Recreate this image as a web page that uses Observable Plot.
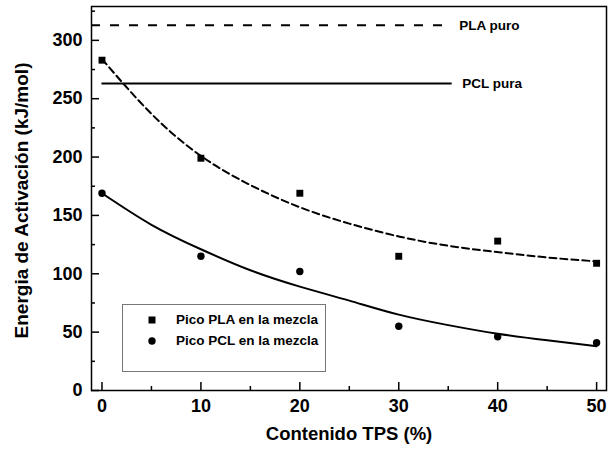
<!DOCTYPE html>
<html>
<head>
<meta charset="utf-8">
<script src="https://cdn.jsdelivr.net/npm/d3@7"></script>
<script src="https://cdn.jsdelivr.net/npm/@observablehq/plot@0.6"></script>
<style>
  html, body { margin: 0; padding: 0; background: white; }
  #wrap { position: relative; width: 608px; height: 454px; font-family: "Liberation Sans", Arial, sans-serif; }
  #legend { position: absolute; left: 122px; top: 304px; width: 204px; height: 68px; border: 1px solid #777; background: white; box-sizing: border-box; }
  #legend .item { position: absolute; left: 0; font-weight: bold; font-size: 13.5px; color: black; white-space: nowrap; }
  #legend svg { position: absolute; left: 21px; }
  #legend span { position: absolute; left: 53px; }
</style>
</head>
<body>
<div id="wrap"></div>
<script>
// Data
const tps = [0, 10, 20, 30, 40, 50];
const plaPeak = [283, 199, 169, 115, 128, 109];
const pclPeak = [169, 115, 102, 55, 46, 41];

// Points
const fitX = [0, 5, 10, 15, 20, 25, 30, 35, 40, 45, 50];
const fitPLA = [284, 237, 201, 176, 157, 143, 132, 124, 118.6, 114, 110.6];
const fitPCL = [169, 142, 121, 103, 89, 77, 65, 56, 48.6, 43, 38];

// Reference lines (pure polymers)
const refNames = ["PLA puro", "PCL pura"];
const refValues = [313, 263];
const refStart = [-1.06, 0];
const refEnd = [34.5, 35.4];

const xTicks = [0, 10, 20, 30, 40, 50];
const xMinor = [5, 15, 25, 35, 45];
const yTicks = [0, 50, 100, 150, 200, 250, 300];
const yMinor = [25, 75, 125, 175, 225, 275, 325];

const legendNames = ["Pico PLA en la mezcla", "Pico PCL en la mezcla"];

const pts = (xs, ys) => xs.map((x, i) => ({x, y: ys[i]}));
const refs = refNames.map((name, i) => ({name, y: refValues[i], x1: refStart[i], x2: refEnd[i]}));

const chart = Plot.plot({
  width: 608,
  height: 454,
  marginLeft: 91,
  marginRight: 2,
  marginTop: 6,
  marginBottom: 64,
  x: {domain: [-1.06, 51]},
  y: {domain: [0, 329]},
  style: {fontFamily: "'Liberation Sans', Arial, sans-serif", fontWeight: "bold", fontSize: "18px", color: "black", background: "white", overflow: "visible"},
  marks: [
    Plot.frame({stroke: "black", strokeWidth: 1.5}),
    Plot.axisX({ticks: xTicks, tickSize: -8, text: null, label: null, strokeWidth: 1.5}),
    Plot.axisX({ticks: xMinor, tickSize: -4, text: null, label: null, strokeWidth: 1.5}),
    Plot.axisX({ticks: xTicks, tickSize: 0, tickPadding: 9, label: null, fontSize: 18}),
    Plot.axisY({ticks: yTicks, tickSize: -8, text: null, label: null, strokeWidth: 1.5}),
    Plot.axisY({ticks: yMinor, tickSize: -4, text: null, label: null, strokeWidth: 1.5}),
    Plot.axisY({ticks: yTicks, tickSize: 0, tickPadding: 9, label: null, fontSize: 18}),
    Plot.text(["Contenido TPS (%)"], {frameAnchor: "bottom", dy: 49, fontSize: 18.5, fontWeight: "bold"}),
    Plot.text(["Energia de Activación (kJ/mol)"], {frameAnchor: "left", textAnchor: "middle", rotate: -90, dx: -70, dy: 2, fontSize: 19, fontWeight: "bold"}),
    Plot.ruleY(refs.slice(0, 1), {y: "y", x1: "x1", x2: "x2", stroke: "black", strokeWidth: 2, strokeDasharray: "9,10"}),
    Plot.ruleY(refs.slice(1), {y: "y", x1: "x1", x2: "x2", stroke: "black", strokeWidth: 2}),
    Plot.text(refs.slice(0, 1), {x: "x2", y: "y", text: "name", textAnchor: "start", dx: 16, fontSize: 13.5, fontWeight: "bold"}),
    Plot.text(refs.slice(1), {x: "x2", y: "y", text: "name", textAnchor: "start", dx: 10, fontSize: 13.5, fontWeight: "bold"}),
    Plot.line(pts(fitX, fitPLA), {x: "x", y: "y", curve: "natural", stroke: "black", strokeWidth: 2, strokeDasharray: "7,4"}),
    Plot.line(pts(fitX, fitPCL), {x: "x", y: "y", curve: "natural", stroke: "black", strokeWidth: 2}),
    Plot.dot(pts(tps, plaPeak), {x: "x", y: "y", symbol: "square", fill: "black", r: 3.9}),
    Plot.dot(pts(tps, pclPeak), {x: "x", y: "y", symbol: "circle", fill: "black", r: 3.7})
  ]
});

const wrap = document.getElementById("wrap");
wrap.appendChild(chart);

const legend = document.createElement("div");
legend.id = "legend";
legend.innerHTML = `
  <div class="item" style="top:7px;width:200px;height:16px">
    <svg width="16" height="16" viewBox="-8 -8 16 16" style="top:0"><rect x="-3.5" y="-3.5" width="7" height="7" fill="black"/></svg>
    <span style="top:0">${legendNames[0]}</span>
  </div>
  <div class="item" style="top:28px;width:200px;height:16px">
    <svg width="16" height="16" viewBox="-8 -8 16 16" style="top:0"><circle r="3.7" fill="black"/></svg>
    <span style="top:0">${legendNames[1]}</span>
  </div>`;
wrap.appendChild(legend);
</script>
</body>
</html>
